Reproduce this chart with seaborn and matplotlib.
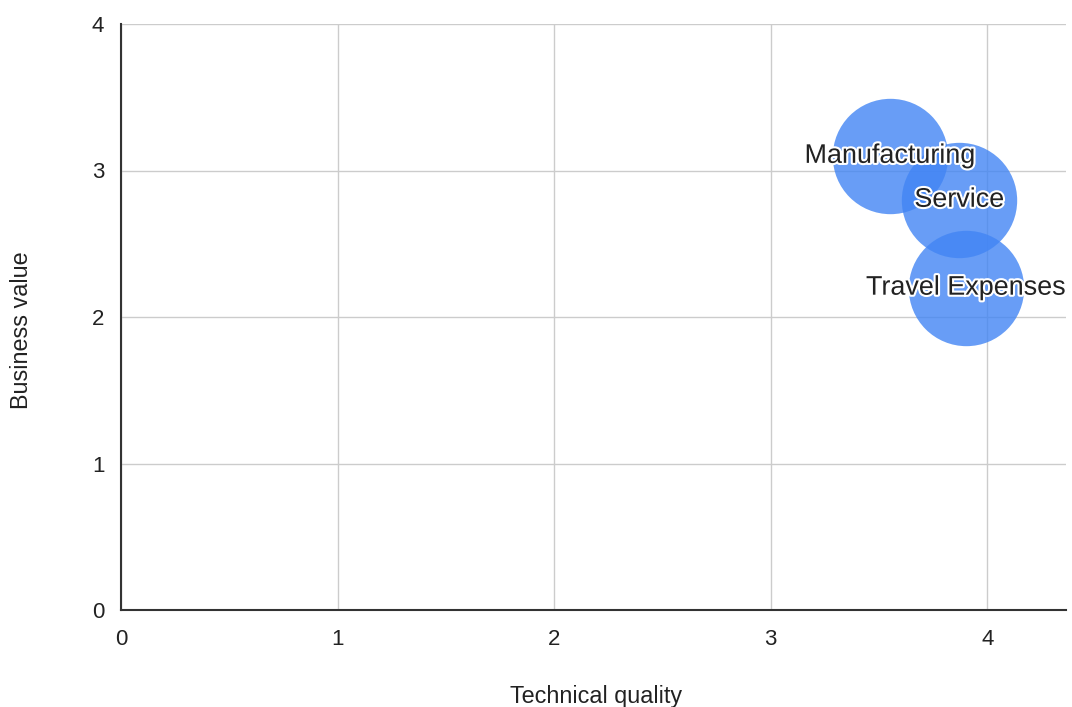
import matplotlib
matplotlib.use("Agg")
import matplotlib.pyplot as plt
import matplotlib.patheffects as pe
import seaborn as sns
import pandas as pd

# Data
names = ["Manufacturing", "Service", "Travel Expenses"]
technical_quality = [3.55, 3.87, 3.90]
business_value = [3.10, 2.80, 2.20]
x_ticks = [0, 1, 2, 3, 4]
y_ticks = [0, 1, 2, 3, 4]

df = pd.DataFrame({"name": names, "Technical quality": technical_quality,
                   "Business value": business_value})

sns.set_theme(style="white")
plt.rcParams["font.family"] = ["Liberation Sans", "DejaVu Sans"]

fig = plt.figure(figsize=(10.72, 7.07), dpi=100)
ax = fig.add_axes([121 / 1072, 1 - 610 / 707, (1066 - 121) / 1072, (610 - 24) / 707])

sns.scatterplot(data=df, x="Technical quality", y="Business value", ax=ax,
                s=6900, color="#4285f4", alpha=0.8, linewidth=0, zorder=3,
                legend=False)

for n, xv, yv in zip(names, technical_quality, business_value):
    ax.text(xv, yv, n, ha="center", va="center", fontsize=19.4, color="#222222",
            zorder=5,
            path_effects=[pe.withStroke(linewidth=3, foreground="white")])

ax.set_xlim(0, 4.363)
ax.set_ylim(0, 4)
ax.set_xticks(x_ticks)
ax.set_yticks(y_ticks)
ax.set_xticklabels([str(t) for t in x_ticks])
ax.set_yticklabels([str(t) for t in y_ticks])
ax.tick_params(axis="both", length=0, labelsize=16, labelcolor="#222222")
ax.tick_params(axis="x", pad=14)
ax.tick_params(axis="y", pad=12)

ax.grid(True, color="#cccccc", linewidth=1.0, zorder=0)
ax.set_axisbelow(True)
for s in ["top", "right"]:
    ax.spines[s].set_visible(False)
for s in ["left", "bottom"]:
    ax.spines[s].set_color("#333333")
    ax.spines[s].set_linewidth(1.5)
    ax.spines[s].set_zorder(4)

ax.set_xlabel("Technical quality", fontsize=16.8, color="#222222")
ax.set_ylabel("Business value", fontsize=16.8, color="#222222")
ax.xaxis.set_label_coords((596 - 121) / 945, -(685 - 610) / 586)
ax.yaxis.set_label_coords(-(121 - 33) / 945, (610 - 330) / 586)

fig.savefig("out.png", dpi=100, facecolor="white")
